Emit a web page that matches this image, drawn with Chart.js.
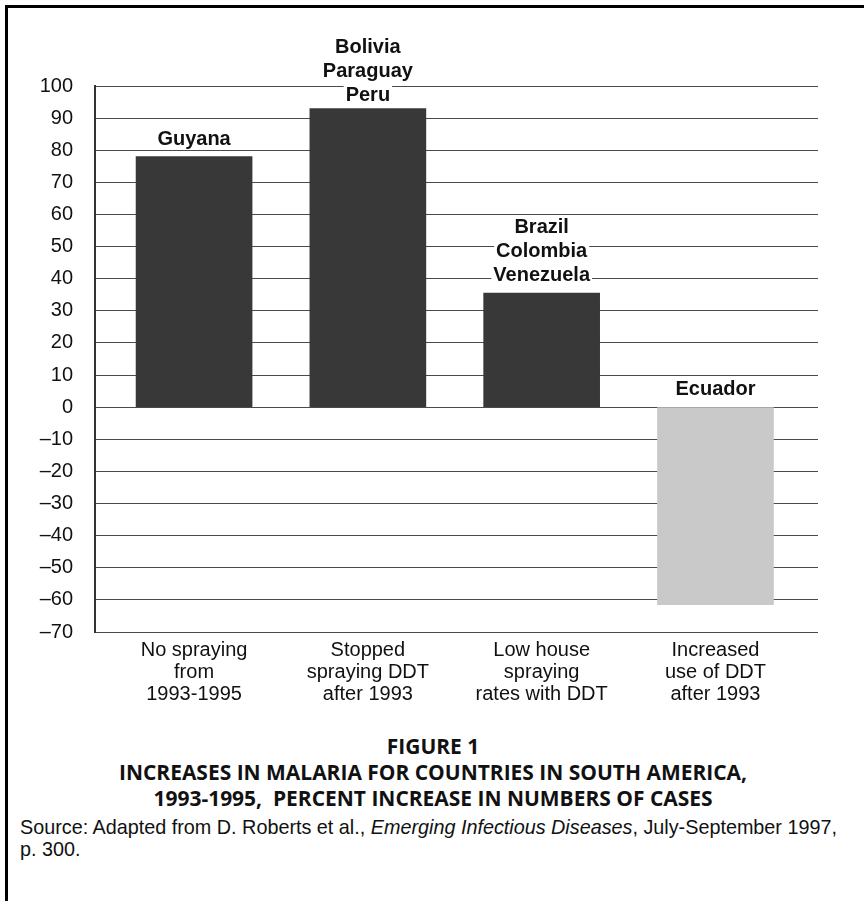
<!DOCTYPE html>
<html>
<head>
<meta charset="utf-8">
<script src="https://cdn.jsdelivr.net/npm/chart.js@4"></script>
<style>
  html, body { margin: 0; padding: 0; background: #fff; overflow: hidden; }
  body { width: 864px; height: 901px; position: relative; }
  #frame { position: absolute; left: 5px; top: 5px; width: 900px; height: 950px;
           border-left: 3px solid #000; border-top: 3px solid #000; }
  #chart { position: absolute; left: 0; top: 0; }
  #title { position: absolute; left: 0; top: 732px; width: 866px; text-align: center;
           font-family: "Open Sans", sans-serif; font-weight: 700; font-size: 22px;
           line-height: 26px; color: #111; transform-origin: 433px 0; }
  #source { position: absolute; left: 20px; top: 816px; width: 840px; white-space: nowrap;
            font-family: "Liberation Sans", Arial, sans-serif; font-size: 19.8px;
            line-height: 22px; color: #111; }
</style>
</head>
<body>
<div id="frame"></div>
<canvas id="chart" width="864" height="720"></canvas>
<div id="title">
  <div>FIGURE 1</div>
  <div><span id="tline">INCREASES IN MALARIA FOR COUNTRIES IN SOUTH AMERICA,</span></div>
  <div>1993-1995,&nbsp; PERCENT INCREASE IN NUMBERS OF CASES</div>
</div>
<div id="source">Source: Adapted from D. Roberts et al., <i>Emerging Infectious Diseases</i>, July-September 1997,<br>p. 300.</div>
<script>
// chart data
const categories = [
    ['No spraying', 'from', '1993-1995'],
    ['Stopped', 'spraying DDT', 'after 1993'],
    ['Low house', 'spraying', 'rates with DDT'],
    ['Increased', 'use of DDT', 'after 1993']
];
const countryLabels = [
    ['Guyana'],
    ['Bolivia', 'Paraguay', 'Peru'],
    ['Brazil', 'Colombia', 'Venezuela'],
    ['Ecuador']
];
const percentIncrease = [78, 93, 35.5, -61.5];
const barColors = ['#383838', '#383838', '#383838', '#c9c9c9'];

const fontFamily = '"Liberation Sans", Arial, Helvetica, sans-serif';

// labels drawn above each bar (or above zero line for negative bars)
const countryLabelPlugin = {
    id: 'countryLabels',
    afterDatasetsDraw(chart) {
        const ctx = chart.ctx;
        const meta = chart.getDatasetMeta(0);
        const yScale = chart.scales.y;
        ctx.save();
        ctx.font = 'bold 20px ' + fontFamily;
        ctx.textAlign = 'center';
        ctx.textBaseline = 'alphabetic';
        meta.data.forEach((bar, i) => {
            const lines = countryLabels[i];
            const anchor = percentIncrease[i] >= 0 ? bar.y : yScale.getPixelForValue(0);
            const gap = i === 1 ? 7 : 12;
            lines.forEach((line, j) => {
                const baseY = anchor - gap - (lines.length - 1 - j) * 24;
                const w = ctx.measureText(line).width;
                ctx.fillStyle = '#fff';
                ctx.fillRect(bar.x - w / 2 - 2, baseY - 16, w + 4, 21);
                ctx.fillStyle = '#111';
                ctx.fillText(line, bar.x, baseY);
            });
        });
        ctx.restore();
    }
};

const ctx = document.getElementById('chart').getContext('2d');
const chart = new Chart(ctx, {
    type: 'bar',
    data: {
        datasets: [{
            data: percentIncrease.map((v, i) => ({ x: i, y: v })),
            backgroundColor: barColors,
            borderWidth: 0,
            barThickness: 116
        }]
    },
    options: {
        responsive: false,
        animation: false,
        layout: { padding: { top: 86, right: 46, bottom: 0, left: 0 } },
        plugins: {
            legend: { display: false },
            tooltip: { enabled: false }
        },
        scales: {
            x: {
                type: 'linear',
                offset: false,
                min: -0.57,
                max: 3.59,
                grid: { display: false, drawTicks: false, offset: false },
                border: { display: false },
                afterBuildTicks: (scale) => {
                    scale.ticks = categories.map((c, i) => ({ value: i }));
                },
                afterFit: (scale) => { scale.height = 88; },
                ticks: {
                    autoSkip: false,
                    maxRotation: 0,
                    padding: 7,
                    color: '#111',
                    font: { family: fontFamily, size: 20, lineHeight: 1.1 },
                    callback: (value) => categories[value]
                }
            },
            y: {
                min: -70,
                max: 100,
                grid: { color: '#4a4a4a', lineWidth: 1, drawTicks: false },
                border: { display: true, color: '#333', width: 2 },
                afterFit: (scale) => { scale.width = 95; },
                ticks: {
                    stepSize: 10,
                    padding: 22,
                    color: '#111',
                    font: { family: fontFamily, size: 20 },
                    callback: (v) => v < 0 ? '\u2013' + Math.abs(v) : String(v)
                }
            }
        }
    },
    plugins: [countryLabelPlugin]
});

// squeeze the caption font so its width matches the original condensed face
const tline = document.getElementById('tline');
const scaleX = 628 / tline.getBoundingClientRect().width;
document.getElementById('title').style.transform = 'scaleX(' + scaleX + ')';
</script>
</body>
</html>
